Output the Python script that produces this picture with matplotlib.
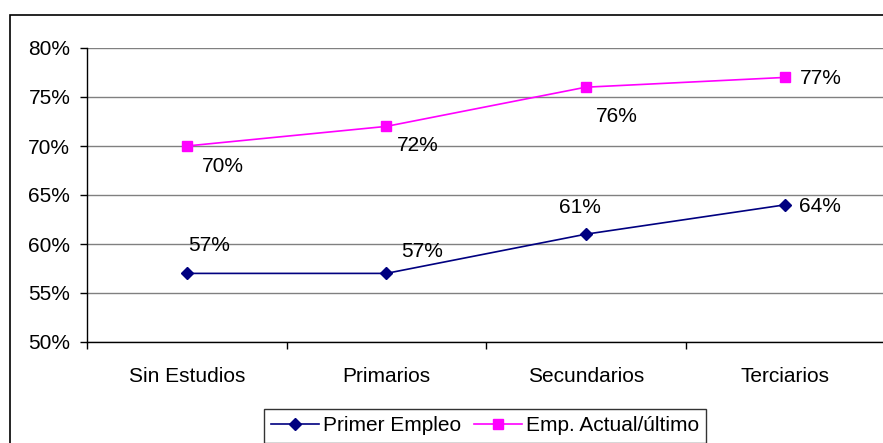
import matplotlib
matplotlib.use("Agg")
import matplotlib.pyplot as plt
from matplotlib.patches import Rectangle
from matplotlib.ticker import FuncFormatter

# Data
categorias = ["Sin Estudios", "Primarios", "Secundarios", "Terciarios"]
primer_empleo = [0.57, 0.57, 0.61, 0.64]
emp_actual = [0.70, 0.72, 0.76, 0.77]

plt.rcParams['font.family'] = ['Liberation Sans', 'DejaVu Sans']
plt.rcParams['font.size'] = 15

fig = plt.figure(figsize=(8.83, 4.43), dpi=100)
W, H = 883, 443
# plot area in pixels of the reference
ax = fig.add_axes([87 / W, 1 - 342 / H, (885 - 87) / W, (342 - 48) / H])

x = list(range(len(categorias)))
ax.plot(x, primer_empleo, color="#000080", lw=1.2, marker="D", ms=6.5,
        label="Primer Empleo", zorder=3)
ax.plot(x, emp_actual, color="#FF00FF", lw=1.2, marker="s", ms=6.5,
        label="Emp. Actual/último", zorder=3)

# data labels, placed like Excel did
off_blue = [(22, 28), (36, 22), (-6, 27), (35, -2)]
off_pink = [(36, -21), (32, -19), (31, -29), (36, -1)]
for xi, v, o in zip(x, primer_empleo, off_blue):
    ax.annotate(f"{v*100:.0f}%", (xi, v), xytext=o, textcoords="offset pixels",
                ha="center", va="center")
for xi, v, o in zip(x, emp_actual, off_pink):
    ax.annotate(f"{v*100:.0f}%", (xi, v), xytext=o, textcoords="offset pixels",
                ha="center", va="center")

ax.set_xlim(-0.5, len(categorias) - 0.5)
ax.set_ylim(0.50, 0.80)
ax.set_yticks([0.50, 0.55, 0.60, 0.65, 0.70, 0.75, 0.80])
ax.yaxis.set_major_formatter(FuncFormatter(lambda v, p: f"{v*100:.0f}%"))
ax.set_xticks(x)
ax.set_xticklabels(categorias)
ax.set_xticks([i - 0.5 for i in range(len(categorias) + 1)], minor=True)
ax.tick_params(axis="x", which="major", length=0, pad=18)
ax.tick_params(axis="x", which="minor", length=5, direction="out", width=1)
ax.tick_params(axis="y", length=5, width=1, pad=7)

ax.grid(axis="y", color="#808080", lw=1)
ax.set_axisbelow(True)
for s in ["top", "right"]:
    ax.spines[s].set_visible(False)
ax.spines["left"].set_linewidth(1)
ax.spines["bottom"].set_linewidth(1)

leg = ax.legend(loc="upper center", bbox_to_anchor=(485 / W, 1 - 409 / H),
                bbox_transform=fig.transFigure, ncol=2, frameon=True,
                fancybox=False, handlelength=2.3, handletextpad=0.2,
                columnspacing=0.6, borderpad=0.35, borderaxespad=0)
leg.get_frame().set_edgecolor("#000000")
leg.get_frame().set_linewidth(1)

# chart border (cropped on the right and bottom)
fig.add_artist(Rectangle((9.5 / W, -0.2), 2, 1 - 14.5 / H + 0.2,
                         transform=fig.transFigure, fill=False,
                         edgecolor="black", lw=1.2, clip_on=False))

fig.savefig("out.png", dpi=100)
